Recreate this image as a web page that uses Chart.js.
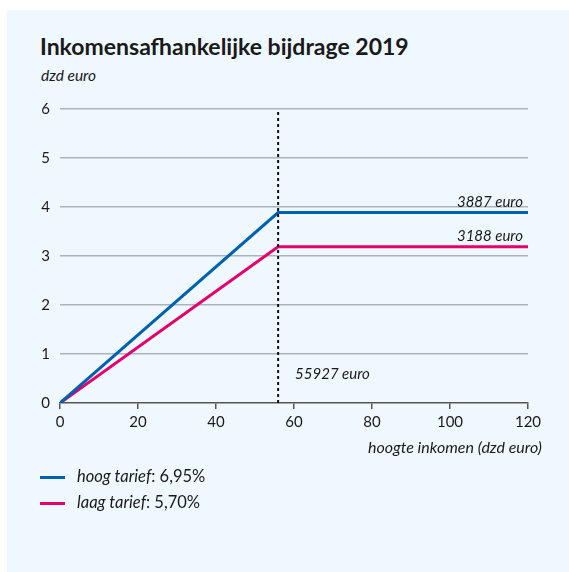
<!DOCTYPE html>
<html>
<head>
<meta charset="utf-8">
<script src="https://cdn.jsdelivr.net/npm/chart.js@4"></script>
<style>
  body { margin: 0; background: #fff; }
  #wrap { position: relative; width: 569px; height: 572px; font-family: Lato, "Noto Sans", sans-serif; color: #1a1a1a; }
  #panel { position: absolute; left: 7px; top: 10px; width: 562px; height: 562px; background: #eef8fe; }
  #title { position: absolute; left: 40px; top: 32px; font-size: 23px; font-weight: bold; white-space: nowrap; }
  #unit { position: absolute; left: 41px; top: 66px; font-size: 15.5px; font-style: italic; }
  #xtitle { position: absolute; right: 27px; top: 437px; font-size: 16px; font-style: italic; white-space: nowrap; }
  canvas { position: absolute; left: 0; top: 0; }
  .leg { position: absolute; left: 40px; font-size: 16.5px; white-space: nowrap; }
  .leg span.sw { display: inline-block; width: 25px; height: 3px; vertical-align: middle; margin-right: 12px; }
  .leg i { font-style: italic; }
</style>
</head>
<body>
<div id="wrap">
  <div id="panel"></div>
  <div id="title">Inkomensafhankelijke bijdrage 2019</div>
  <div id="unit">dzd euro</div>
  <canvas id="chart" width="569" height="572"></canvas>
  <div id="xtitle">hoogte inkomen (dzd euro)</div>
  <div class="leg" style="top:466px"><span class="sw" style="background:#0061b0"></span><i>hoog tarief</i>: 6,95%</div>
  <div class="leg" style="top:492px"><span class="sw" style="background:#e5006d"></span><i>laag tarief</i>: 5,70%</div>
</div>
<script>
// inkomen in dzd euro
var inkomen = [0, 55.927, 120];
var hoogTarief = [0, 3.887, 3.887];
var laagTarief = [0, 3.188, 3.188];
// grens maximum bijdrage-inkomen
var grensX = [55.927, 55.927];
var grensY = [0, 6];
var xTicks = [0, 20, 40, 60, 80, 100, 120];
var yTicks = [0, 1, 2, 3, 4, 5, 6];
var labelTexts = ['3887 euro', '3188 euro', '55927 euro'];
var labelX = [120, 120, 55.927];
var labelY = [3.887, 3.188, 0.5];

function points(xs, ys) {
  var pts = [];
  xs.forEach(function(x, i) { pts.push({x: x, y: ys[i]}); });
  return pts;
}

var labelPlugin = {
  id: 'labels',
  afterDatasetsDraw: function(chart) {
    var ctx = chart.ctx;
    var xs = chart.scales.x, ys = chart.scales.y;
    ctx.save();
    ctx.font = 'italic 15px Lato, "Noto Sans", sans-serif';
    ctx.fillStyle = '#1a1a1a';
    ctx.textBaseline = 'alphabetic';
    labelTexts.forEach(function(t, i) {
      var px = xs.getPixelForValue(labelX[i]);
      var py = ys.getPixelForValue(labelY[i]);
      if (i < 2) {
        ctx.textAlign = 'right';
        ctx.fillText(t, px - 5, py - 6);
      } else {
        ctx.textAlign = 'left';
        ctx.fillText(t, px + 17, py);
      }
    });
    ctx.restore();
  }
};

var chart = new Chart(document.getElementById('chart').getContext('2d'), {
  type: 'line',
  data: {
    datasets: [{
      data: points(grensX, grensY),
      borderColor: '#111',
      borderWidth: 2,
      borderDash: [3, 3],
      pointRadius: 0
    }, {
      label: 'hoog tarief: 6,95%',
      data: points(inkomen, hoogTarief),
      borderColor: '#0061b0',
      borderWidth: 3,
      pointRadius: 0
    }, {
      label: 'laag tarief: 5,70%',
      data: points(inkomen, laagTarief),
      borderColor: '#e5006d',
      borderWidth: 3,
      pointRadius: 0
    }]
  },
  options: {
    responsive: false,
    animation: false,
    layout: { padding: { left: 0, top: 109, right: 41, bottom: 0 } },
    plugins: { legend: { display: false }, tooltip: { enabled: false } },
    scales: {
      x: {
        type: 'linear',
        min: 0, max: 120,
        afterBuildTicks: function(s) { s.ticks = xTicks.map(function(v) { return {value: v}; }); },
        afterFit: function(s) { s.height = 169; },
        border: { display: true, color: '#555', width: 1.5 },
        grid: { drawOnChartArea: false, drawTicks: true, tickLength: 6, color: '#555', lineWidth: 1.5 },
        ticks: { color: '#1a1a1a', font: { family: 'Lato, "Noto Sans", sans-serif', size: 15 }, padding: 4, maxRotation: 0 }
      },
      y: {
        min: 0, max: 6,
        afterBuildTicks: function(s) { s.ticks = yTicks.map(function(v) { return {value: v}; }); },
        afterFit: function(s) { s.width = 60; },
        border: { display: false },
        grid: {
          drawTicks: false,
          color: function(c) { return c.tick && c.tick.value === 0 ? 'rgba(0,0,0,0)' : '#aab4ba'; },
          lineWidth: 1.5
        },
        ticks: { color: '#1a1a1a', font: { family: 'Lato, "Noto Sans", sans-serif', size: 15 }, padding: 10 }
      }
    }
  },
  plugins: [labelPlugin]
});
</script>
</body>
</html>
